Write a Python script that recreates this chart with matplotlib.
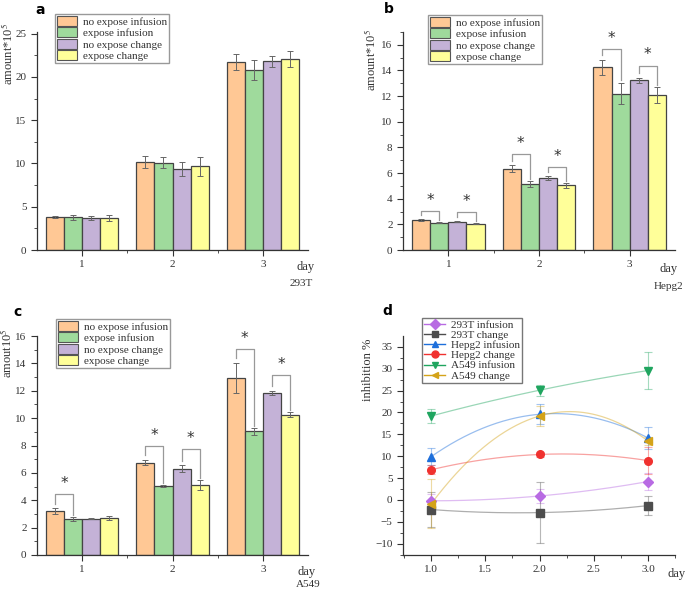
import matplotlib
matplotlib.use("Agg")
import matplotlib.pyplot as plt
import numpy as np
from matplotlib.patches import Patch
from matplotlib.lines import Line2D

plt.rcParams["font.family"] = ["Liberation Serif", "DejaVu Serif"]
plt.rcParams["font.size"] = 8
plt.rcParams["mathtext.fontset"] = "stix"

INK = "#333333"
BAR_COLORS = ["#FFC895", "#9FDA9C", "#C4B2D7", "#FFFF99"]
SERIES = ["no expose infusion", "expose infusion", "no expose change", "expose change"]
DAYS = [1, 2, 3]

# panel a: 293T
a_vals = [[3.8, 10.2, 21.7], [3.8, 10.1, 20.8], [3.7, 9.4, 21.8], [3.7, 9.7, 22.1]]
a_err = [[0.1, 0.7, 0.9], [0.3, 0.6, 1.2], [0.2, 0.8, 0.6], [0.4, 1.1, 0.9]]

# panel b: Hepg2
b_vals = [[2.35, 6.35, 14.25], [2.12, 5.15, 12.2], [2.2, 5.62, 13.25], [2.05, 5.05, 12.1]]
b_err = [[0.06, 0.25, 0.6], [0.03, 0.25, 0.85], [0.03, 0.15, 0.2], [0.06, 0.18, 0.6]]
# (day, first bar, second bar, bracket height)
b_sig = [(1, 0, 1, 3.05), (1, 2, 3, 2.93), (2, 0, 1, 7.5), (2, 2, 3, 6.47),
         (3, 0, 1, 15.67), (3, 2, 3, 14.37)]

# panel c: A549
c_vals = [[3.2, 6.75, 12.95], [2.6, 5.05, 9.05], [2.65, 6.3, 11.85], [2.7, 5.1, 10.25]]
c_err = [[0.2, 0.2, 1.1], [0.15, 0.05, 0.25], [0.03, 0.25, 0.15], [0.15, 0.35, 0.2]]
c_sig = [(1, 0, 1, 4.46), (2, 0, 1, 7.96), (2, 2, 3, 7.72),
         (3, 0, 1, 15.03), (3, 2, 3, 13.13)]

# panel d: inhibition %
d_names = ["293T infusion", "293T change", "Hepg2 infusion", "Hepg2 change",
           "A549 infusion", "A549 change"]
d_vals = [[-0.2, 0.9, 4.2], [-2.2, -2.9, -1.3], [9.9, 19.6, 14.2],
          [6.9, 10.4, 9.0], [19.2, 25.1, 29.6], [-0.9, 19.2, 13.5]]
d_err = [[1.6, 1.6, 2.0], [4.0, 7.0, 2.1], [2.0, 2.3, 2.5],
         [1.0, 0.6, 3.0], [1.7, 1.3, 4.2], [5.6, 2.3, 0.9]]
d_colors = ["#B86BE3", "#4D4D4D", "#1E6FDB", "#F0312F", "#1FA55F", "#D4A319"]
d_markers = ["D", "s", "^", "o", "v", "<"]


def _style_axes(ax):
    for side in ["top", "right"]:
        ax.spines[side].set_visible(False)
    for side in ["left", "bottom"]:
        ax.spines[side].set_color(INK)
        ax.spines[side].set_linewidth(0.9)
    ax.tick_params(which="both", direction="out", colors=INK, labelcolor=INK, labelsize=8)
    ax.tick_params(which="major", length=4, width=0.8)
    ax.tick_params(which="minor", length=2, width=0.6)


def _legend_bars(fig, anchor):
    handles = [Patch(facecolor=c, edgecolor="#555555", linewidth=0.8) for c in BAR_COLORS]
    fig.legend(handles, SERIES, loc="upper left", bbox_to_anchor=anchor,
               frameon=True, fancybox=False, edgecolor="#999999", framealpha=1,
               fontsize=8, handlelength=1.8, handleheight=1.05, handletextpad=0.6,
               labelspacing=0.05, borderpad=0.15, borderaxespad=0, labelcolor=INK)


def bar_panel(ax, vals, err, ymax, ystep, sig=None):
    width = 0.2
    x = np.array(DAYS, dtype=float)
    for i in range(4):
        ax.bar(x + (i - 1.5) * width, vals[i], width, yerr=err[i],
               color=BAR_COLORS[i], edgecolor="#444444", linewidth=0.9,
               error_kw=dict(ecolor="#666666", elinewidth=0.7, capsize=2.5, capthick=0.7),
               zorder=2)
    if sig:
        for day, i, j, h in sig:
            xi = day + (i - 1.5) * width
            xj = day + (j - 1.5) * width
            yi = vals[i][day - 1] + err[i][day - 1] + 0.02 * ymax
            yj = vals[j][day - 1] + err[j][day - 1] + 0.01 * ymax
            ax.plot([xi, xi, xj, xj], [yi, h, h, yj], color="#999999", lw=0.9, zorder=3)
            ax.text((xi + xj) / 2, h + 0.015 * ymax, "*", ha="center", va="bottom",
                    fontsize=11, color=INK, family="DejaVu Sans")
    ax.set_xlim(0.5, 3.5)
    ax.set_ylim(0, ymax)
    ax.set_xticks(DAYS)
    ax.set_xticks([1.5, 2.5], minor=True)
    ax.set_yticks(np.arange(0, ymax + 0.01, ystep))
    ax.set_yticks(np.arange(ystep / 2, ymax + 0.01, ystep), minor=True)
    _style_axes(ax)


fig = plt.figure(figsize=(6.85, 5.95), dpi=100)

ax_a = fig.add_axes([37 / 685, 1 - 250 / 595, 271 / 685, 218 / 595])
bar_panel(ax_a, a_vals, a_err, 25.2, 5)
ax_a.set_ylim(0, 25.2)
ax_a.set_ylabel("amount*10$^5$", color=INK, fontsize=9)
ax_a.yaxis.set_label_coords(-0.077, 0.9)
ax_a.text(0.99, -0.05, "day", transform=ax_a.transAxes, ha="center", va="top", fontsize=9, color=INK)
ax_a.text(0.975, -0.135, "293T", transform=ax_a.transAxes, ha="center", va="top", fontsize=8, color=INK)
_legend_bars(fig, (55 / 685, 1 - 14 / 595))

ax_b = fig.add_axes([403 / 685, 1 - 250 / 595, 272 / 685, 218 / 595])
bar_panel(ax_b, b_vals, b_err, 17, 2, b_sig)
ax_b.set_ylabel("amount*10$^5$", color=INK, fontsize=9)
ax_b.yaxis.set_label_coords(-0.088, 0.87)
ax_b.text(0.975, -0.06, "day", transform=ax_b.transAxes, ha="center", va="top", fontsize=9, color=INK)
ax_b.text(0.975, -0.145, "Hepg2", transform=ax_b.transAxes, ha="center", va="top", fontsize=8, color=INK)
_legend_bars(fig, (428 / 685, 1 - 15 / 595))

ax_c = fig.add_axes([37 / 685, 1 - 555 / 595, 271 / 685, 219 / 595])
bar_panel(ax_c, c_vals, c_err, 16, 2, c_sig)
ax_c.set_ylabel("amout10$^5$", color=INK, fontsize=9)
ax_c.yaxis.set_label_coords(-0.08, 0.92)
ax_c.text(0.995, -0.05, "day", transform=ax_c.transAxes, ha="center", va="top", fontsize=9, color=INK)
ax_c.text(1.0, -0.115, "A549", transform=ax_c.transAxes, ha="center", va="top", fontsize=8, color=INK)
_legend_bars(fig, (56 / 685, 1 - 319 / 595))

ax_d = fig.add_axes([403 / 685, 1 - 555 / 595, 272 / 685, 219 / 595])
xd = np.array(DAYS, dtype=float)
xs = np.linspace(1, 3, 200)
handles = []
for name, v, e, c, m in zip(d_names, d_vals, d_err, d_colors, d_markers):
    coef = np.polyfit(xd, v, 2)
    ax_d.plot(xs, np.polyval(coef, xs), color=c, lw=0.9, alpha=0.45, zorder=2)
    ax_d.errorbar(xd, v, yerr=e, fmt="none", ecolor=c, elinewidth=0.8, alpha=0.4,
                  capsize=3, capthick=0.8, zorder=2)
    ax_d.plot(xd, v, ls="none", marker=m, ms=5.5, color=c, zorder=3)
    handles.append(Line2D([], [], color=c, lw=1, alpha=1, marker=m, ms=5,
                          markerfacecolor=c, markeredgecolor=c))
ax_d.set_xlim(0.74, 3.25)
ax_d.set_ylim(-12.6, 37.5)
ax_d.set_xticks([1.0, 1.5, 2.0, 2.5, 3.0])
ax_d.set_xticklabels(["1.0", "1.5", "2.0", "2.5", "3.0"])
ax_d.set_xticks(np.arange(0.75, 3.3, 0.25), minor=True)
ax_d.set_yticks(np.arange(-10, 36, 5))
ax_d.set_yticks(np.arange(-12.5, 37.5, 2.5), minor=True)
_style_axes(ax_d)
ax_d.set_ylabel("inhibition %", color=INK, fontsize=9)
ax_d.yaxis.set_label_coords(-0.107, 0.845)
ax_d.text(1.005, -0.06, "day", transform=ax_d.transAxes, ha="center", va="top", fontsize=9, color=INK)
leg = fig.legend(handles, d_names, loc="upper left", bbox_to_anchor=(422 / 685, 1 - 318 / 595),
                 frameon=True, fancybox=False, edgecolor="#777777", framealpha=1,
                 fontsize=8, handlelength=1.9, handletextpad=0.5, labelspacing=0.03,
                 borderpad=0.2, borderaxespad=0, labelcolor=INK)
for line in leg.get_lines():
    line.set_alpha(1)

for label, xy in [("a", (40, 10)), ("b", (389, 9)), ("c", (18, 312)), ("d", (387, 311))]:
    fig.text(xy[0] / 685, 1 - xy[1] / 595, label, fontsize=10, fontweight="bold",
             family="DejaVu Sans", ha="center", va="center", color="black")

fig.savefig("out.png", dpi=100)
